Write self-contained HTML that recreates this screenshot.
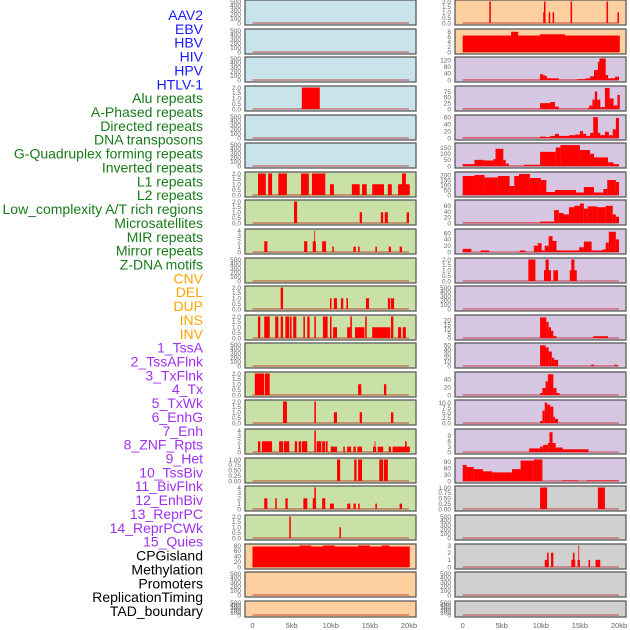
<!DOCTYPE html>
<html><head><meta charset="utf-8"><style>
html,body{margin:0;padding:0;background:#fff;width:630px;height:630px;overflow:hidden}
svg{display:block;font-family:"Liberation Sans",sans-serif}
</style></head><body>
<svg id="chart" width="630" height="630" viewBox="0 0 630 630" xmlns="http://www.w3.org/2000/svg"></svg>
<script>
const labelNames = ["AAV2","EBV","HBV","HIV","HPV","HTLV-1","Alu repeats","A-Phased repeats","Directed repeats","DNA transposons","G-Quadruplex forming repeats","Inverted repeats","L1 repeats","L2 repeats","Low_complexity A/T rich regions","Microsatellites","MIR repeats","Mirror repeats","Z-DNA motifs","CNV","DEL","DUP","INS","INV","1_TssA","2_TssAFlnk","3_TxFlnk","4_Tx","5_TxWk","6_EnhG","7_Enh","8_ZNF_Rpts","9_Het","10_TssBiv","11_BivFlnk","12_EnhBiv","13_ReprPC","14_ReprPCWk","15_Quies","CPGisland","Methylation","Promoters","ReplicationTiming","TAD_boundary"];
const labelColors = ["#1a1aff","#1a1aff","#1a1aff","#1a1aff","#1a1aff","#1a1aff","#1a7a1a","#1a7a1a","#1a7a1a","#1a7a1a","#1a7a1a","#1a7a1a","#1a7a1a","#1a7a1a","#1a7a1a","#1a7a1a","#1a7a1a","#1a7a1a","#1a7a1a","#ffa500","#ffa500","#ffa500","#ffa500","#ffa500","#a030f0","#a030f0","#a030f0","#a030f0","#a030f0","#a030f0","#a030f0","#a030f0","#a030f0","#a030f0","#a030f0","#a030f0","#a030f0","#a030f0","#a030f0","#000","#000","#000","#000","#000"];
const xTickKb = [0,5,10,15,20];
const xTickLabels = ["0","5kb","10kb","15kb","20kb"];
// panel backgrounds: left column rows then right column rows
const leftBg = ["#c9e3ea","#c9e3ea","#c9e3ea","#c9e3ea","#c9e3ea","#c9e3ea","#c9e1a6","#c9e1a6","#c9e1a6","#c9e1a6","#c9e1a6","#c9e1a6","#c9e1a6","#c9e1a6","#c9e1a6","#c9e1a6","#c9e1a6","#c9e1a6","#c9e1a6","#ffd09f","#ffd09f","#ffd09f"];
const rightBg = ["#ffd09f","#ffd09f","#d6c6e2","#d6c6e2","#d6c6e2","#d6c6e2","#d6c6e2","#d6c6e2","#d6c6e2","#d6c6e2","#d6c6e2","#d6c6e2","#d6c6e2","#d6c6e2","#d6c6e2","#d6c6e2","#d6c6e2","#d0d0d0","#d0d0d0","#d0d0d0","#d0d0d0","#d0d0d0"];
const E = [0,100,200,300,400,500];
const T2 = [0,0.5,1,1.5,2];
const T4 = [0,1,2,3,4];
const T1 = [0,0.25,0.5,0.75,1];
const leftTicks = [E,E,E,T2,E,E,T2,T2,T4,E,T2,T2,E,T2,T2,T4,T1,T4,T2,[0,20,40,60,80],E,E];
const leftTickLabels = [null,null,null,["0.0","0.5","1.0","1.5","2.0"],null,null,["0.0","0.5","1.0","1.5","2.0"],["0.0","0.5","1.0","1.5","2.0"],null,null,["0.0","0.5","1.0","1.5","2.0"],["0.0","0.5","1.0","1.5","2.0"],null,["0.0","0.5","1.0","1.5","2.0"],["0.0","0.5","1.0","1.5","2.0"],null,["0.00","0.25","0.50","0.75","1.00"],null,["0.0","0.5","1.0","1.5","2.0"],null,null,null];
const leftMax = [500,500,500,2,500,500,2,2,4,500,2,2,500,2,2,4,1,4,2,80,500,500];
const leftBars = [
 [],[],[],
 [6.3,8.6,2],
 [],[],
 [0.7,1.7,2,2.0,2.5,2,3.3,4.4,2,6.2,7.2,2,7.6,9.3,2,9.9,10.4,1,12.7,13.7,1,14.0,14.6,1,15.3,16.8,1,17.3,17.8,1,18.6,20.1,1,19.1,19.6,2],
 [5.3,5.7,2,13.7,14.0,1,16.4,16.7,1,16.9,17.3,1,19.7,20.0,1],
 [1.5,1.9,2,6.6,7.0,2,7.7,8.1,2,7.9,8.0,4,8.9,9.4,2,10.2,10.4,1,12.9,13.2,1,13.5,13.7,1,15.7,15.9,1,17.4,17.7,1,18.8,19.1,1],
 [],
 [3.6,3.9,2,9.9,10.1,1,10.4,10.8,1,11.3,11.6,1,12.0,12.2,1,14.5,14.9,1,17.3,17.6,1,17.7,18.1,1],
 [0.7,1.0,2,1.5,2.2,2,2.9,3.3,2,3.6,3.9,2,4.2,4.7,2,4.8,5.0,2,5.2,5.6,2,6.5,6.7,2,7.0,7.3,2,7.9,8.1,2,9.0,9.6,2,9.9,10.1,2,10.3,10.8,1,12.1,12.5,1,12.5,12.7,2,13.1,14.3,1,14.4,14.6,2,15.3,17.6,1,17.7,18.0,2,18.6,19.0,1,19.2,19.6,1],
 [],
 [0.3,1.5,2,1.6,2.2,2,13.5,13.9,1,16.8,17.1,1],
 [3.9,4.4,2,7.9,8.1,2,10.4,10.8,1,13.7,14.0,1,17.7,18.0,1],
 [0.7,1.0,2,1.2,2.5,2,3.4,3.9,2,4.0,4.7,2,5.4,5.7,2,5.9,6.2,2,6.3,7.0,2,7.9,8.1,4,8.2,8.8,2,8.9,9.3,2,9.4,9.6,2,10.0,10.8,1,11.6,11.8,1,12.1,12.6,1,12.9,13.2,1,13.4,14.0,1,15.4,15.8,1,15.6,15.7,2,16.0,16.7,1,17.4,17.7,1,17.9,20.1,1,19.5,19.7,2],
 [10.8,11.2,1,13.0,13.3,1,13.5,14.0,1,16.2,16.7,1,16.8,17.3,1],
 [1.5,1.9,2,2.9,3.1,2,4.2,4.5,2,6.5,7.0,2,7.7,8.1,2,7.9,8.1,4,8.9,9.3,2,9.9,10.4,1,12.1,12.5,1,12.9,13.2,1,13.5,13.7,1,15.7,15.9,1,18.8,19.1,1],
 [4.7,4.9,2,11.1,11.3,1],
 [0,20.1,76,6.0,7.5,80,9.0,10.5,80,13.5,15.0,80,16.5,17.5,80],
 [],[]
];
const TR = ["0.0","0.5","1.0","1.5","2.0"];
const rightTicks = [T2,[0,2,4,6,8],[0,40,80,120],[0,25,50,75],[0,20,40,60],[0,50,100,150],[0,50,100,150,200],[0,20,40,60],[0,20,40,60],T2,E,[0,5,10,15,20],[0,10,20,30,40,50],[0,20,40],[0,2.5,5,7.5,10],[0,3,6,9],[0,30,60,90],T1,E,[0,1,2,3],E,E];
const rightTickLabels = [TR,null,null,null,null,null,null,null,null,TR,null,null,null,null,["0.0","2.5","5.0","7.5","10.0"],null,null,["0.00","0.25","0.50","0.75","1.00"],null,null,null,null];
const rightMax = [2,8.5,130,92,62,175,215,75,68,2,500,24,52,55,10.5,12,100,1,500,3,500,500];
const rightBars = [
 [3.4,3.6,2,10.3,10.4,1,10.4,10.6,2,11.0,11.2,1,11.5,11.7,1,13.8,14.0,2,18.4,18.6,2,19.8,20.0,1],
 [0,20.1,6.5,6.2,7.1,8,9.9,13.1,7],
 [0,9.9,1,9.9,10.3,35,10.3,10.6,28,10.6,10.8,22,10.8,12.3,10,12.3,14.6,1,14.6,15.7,5,15.7,16.3,10,16.3,16.8,22,16.8,17.3,60,17.3,17.5,110,17.5,18.3,130,18.3,18.6,30,18.6,19.5,10,19.5,20.0,20],
 [0,9.9,1,9.9,11.2,25,11.2,11.8,30,11.8,12.3,10,12.3,16.0,1,16.0,16.2,5,16.2,16.6,15,16.6,16.9,40,16.9,17.2,75,17.2,17.6,40,17.6,18.2,8,18.2,18.8,90,18.8,19.3,45,19.3,19.8,15,19.8,20.1,60],
 [0,9.9,1,9.9,10.6,4,10.6,11.2,3,11.2,11.8,6,11.8,12.3,12,12.3,13.6,6,13.6,14.4,8,14.4,15.0,10,15.0,15.4,20,15.4,15.8,12,15.8,16.3,6,16.3,16.7,15,16.7,17.3,60,17.3,17.6,15,17.6,18.2,8,18.2,18.7,18,18.7,19.2,8,19.2,19.6,25,19.6,20.0,58],
 [0,1.5,15,1.5,2.7,50,2.7,3.9,45,3.9,4.2,55,4.2,5.2,140,5.2,5.5,50,5.5,5.9,20,5.9,7.8,1,7.8,9.9,10,9.9,11.9,115,11.9,12.5,150,12.5,15.0,170,15.0,16.3,130,16.3,16.8,100,16.8,18.6,70,18.6,19.3,30,19.3,20.0,15],
 [0,1.5,190,1.5,2.8,200,2.8,4.5,175,4.5,6.0,190,6.0,6.6,90,6.6,7.2,190,7.2,8.6,210,8.6,10.0,170,10.0,10.7,150,10.7,11.8,30,11.8,12.7,50,12.7,14.5,50,14.5,15.5,25,15.5,16.8,80,16.8,18.0,25,18.0,18.5,60,18.5,19.6,150,19.6,20.0,130],
 [0,9.9,1,9.9,11.7,5,11.7,12.3,45,12.3,12.9,35,12.9,13.6,30,13.6,14.3,55,14.3,15.0,60,15.0,15.5,68,15.5,16.0,50,16.0,17.2,58,17.2,18.3,55,18.3,19.2,60,19.2,19.6,30,19.6,20.0,22],
 [0,1.1,10,2.3,3.4,5,7.3,8.0,5,9.1,9.6,20,9.6,10.1,28,10.1,10.5,5,10.5,11.0,20,11.0,11.5,50,11.5,12.0,35,12.0,13.6,5,13.6,14.9,5,14.9,15.5,15,15.5,16.5,33,16.5,17.9,5,17.9,18.3,8,18.3,18.7,30,18.7,19.6,64,19.6,20.0,40],
 [8.4,9.3,2,10.4,11.3,1,10.6,11.0,2,11.6,12.2,1,13.7,14.6,1,13.9,14.3,2],
 [],
 [9.9,10.7,23,10.7,11.0,18,11.0,11.3,12,11.3,11.6,8,11.6,12.0,2,16.7,18.6,2],
 [9.9,10.6,50,10.6,11.0,45,11.0,11.4,35,11.4,11.7,20,11.7,12.2,15,16.4,16.8,3,19.4,19.8,3],
 [9.9,10.2,5,10.2,10.6,18,10.6,10.9,35,10.9,11.6,53,11.6,12.0,18,12.0,12.4,5],
 [9.9,10.2,1,10.2,10.5,6,10.5,10.8,10,10.8,11.2,9,11.2,11.6,8,11.6,11.8,3,11.8,12.2,2],
 [8.5,9.9,2,9.9,10.3,3,10.3,10.9,4,10.9,11.1,5,11.1,11.5,11,11.5,11.9,5,11.9,12.8,2.5,12.8,16.1,1.5],
 [0,0.5,75,0.5,1.4,65,1.4,2.6,55,2.6,3.8,45,3.8,6.3,40,6.3,7.4,55,7.4,9.1,95,9.1,10.2,100,12.7,14.8,3,15.9,20.0,3],
 [9.9,10.8,1,17.3,18.2,1],
 [],
 [10.5,11.0,1,10.8,11.0,2,11.3,11.6,2,13.9,14.4,1,14.1,14.3,2,14.7,15.0,1,14.8,14.9,3,16.1,16.3,1,17.0,17.6,1],
 [],[]
];

const NS = "http://www.w3.org/2000/svg";
const svg = document.getElementById("chart");
function mk(tag, attrs){ const el=document.createElementNS(NS,tag); for(const k in attrs) el.setAttribute(k,attrs[k]); svg.appendChild(el); return el; }

const rowTop = [0,29,57,86,115,143,172,200,229,258,286,315,343,372,400,429,458,486,515,544,572,601];
function rowH(i){ return i===21 ? 16 : 25; }
const cols = [{x0:245,x1:416,k0:252.5,k1:409,bg:leftBg,ticks:leftTicks,tl:leftTickLabels,max:leftMax,bars:leftBars,name:"left"},
              {x0:455,x1:626,k0:462.7,k1:619,bg:rightBg,ticks:rightTicks,tl:rightTickLabels,max:rightMax,bars:rightBars,name:"right"}];

// labels
labelNames.forEach((n,i)=>{
  const t = mk("text",{x:203,y:15+i*13.86+5,"text-anchor":"end","font-size":"14",fill:labelColors[i]});
  t.textContent = n;
  
  
});

cols.forEach(c=>{
  const xs = kb => c.k0 + (kb/20)*(c.k1-c.k0);
  rowTop.forEach((top,i)=>{
    const h = rowH(i);
    const yT = top+1.5, yB = top+h-2;
    const ys = v => yB - (v/c.max[i])*(yB-yT);
    const bg = mk("rect",{x:c.x0,y:top,width:c.x1-c.x0,height:h,fill:c.bg[i],stroke:"#5a5a5a","stroke-width":"1.3"});
    
    
    const base = mk("line",{x1:xs(0),x2:xs(20),y1:yB,y2:yB,stroke:"rgba(190,40,40,0.55)","stroke-width":"1.5"});
    
    
    const b = c.bars[i];
    for(let j=0;j<b.length;j+=3){
      const x1=xs(b[j]), x2=xs(b[j+1]), y=ys(b[j+2]);
      const r = mk("rect",{x:x1,y:y,width:Math.max(0.8,x2-x1),height:yB-y,fill:"#ff0000"});
      
      
    }
    c.ticks[i].forEach((tv,k)=>{
      const lab = c.tl[i] ? c.tl[i][k] : String(tv);
      const t = mk("text",{x:c.x0-4,y:ys(tv)+2.3,"text-anchor":"end","font-size":"6.5",fill:"#666"});
      t.textContent = lab;
      
      
    });
  });
  xTickKb.forEach((kb,k)=>{
    const t = mk("text",{x:xs(kb),y:628,"text-anchor":"middle","font-size":"7.5",fill:"#666"});
    t.textContent = xTickLabels[k];
    
    
  });
});
</script>
</body></html>
